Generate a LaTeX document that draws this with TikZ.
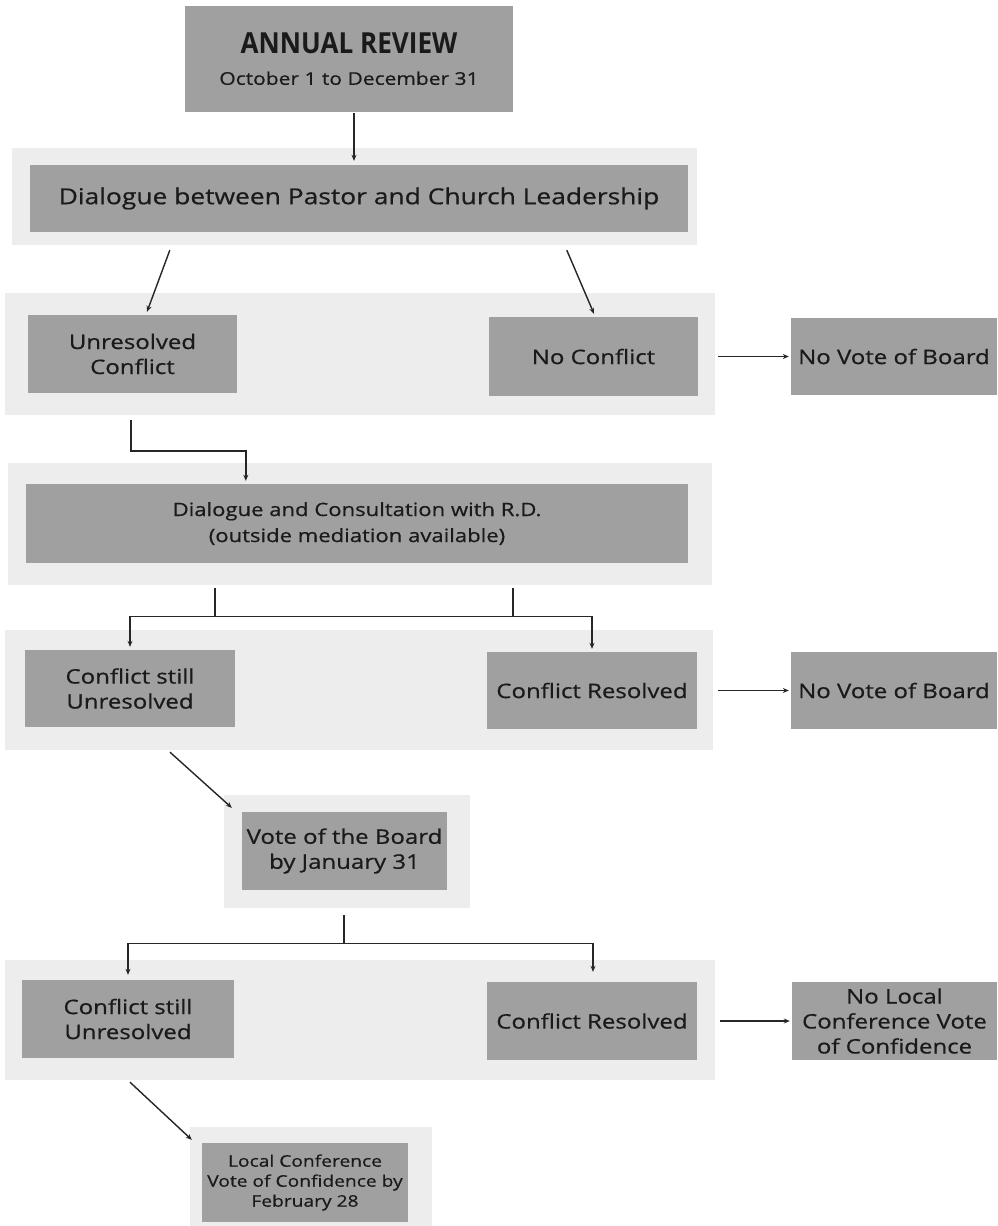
\documentclass[tikz,border=0pt]{standalone}
\usepackage{fontspec}
\usetikzlibrary{arrows.meta,calc}
\newfontfamily\bodyfont{Open Sans}[FakeStretch=1.2,FakeBold=0.6]
\newfontfamily\headfont{Open Sans}[FakeStretch=0.9]
\definecolor{boxgray}{HTML}{A0A0A0}
\definecolor{halogray}{HTML}{EDEDED}
\definecolor{txt}{HTML}{1A1A1A}
\definecolor{linec}{HTML}{262626}
\tikzset{
  box/.style={fill=boxgray, inner sep=0pt, align=center, text=txt, font=\bodyfont\fontsize{20}{25}\selectfont},
  halo/.style={fill=halogray, draw=none},
  arr/.style={draw=linec, line width=1.4pt, -{Stealth[length=6pt,width=5pt]}},
  plain/.style={draw=linec, line width=1.4pt}
}
\begin{document}
\begin{tikzpicture}[x=1pt,y=-1pt]
\useasboundingbox (0,0) rectangle (997,1226);
\fill[white] (0,0) rectangle (997,1226);
% halos
\fill[halo] (12,148) rectangle (697,245);
\fill[halo] (5,293) rectangle (715,415);
\fill[halo] (8,463) rectangle (712,585);
\fill[halo] (5,630) rectangle (713,750);
\fill[halo] (224,795) rectangle (470,908);
\fill[halo] (5,960) rectangle (715,1080);
\fill[halo] (190,1127) rectangle (432,1226);
% boxes
\node[box, minimum width=328pt, minimum height=106pt] (annual) at (349,59)
  {{\headfont\bfseries\fontsize{29}{29}\selectfont ANNUAL REVIEW}\\[6pt]{\fontsize{17.5}{20}\selectfont October 1 to December 31}};
\node[box, minimum width=658pt, minimum height=67pt, font=\bodyfont\fontsize{22}{25}\selectfont] (dlg) at (359,198.5)
  {Dialogue between Pastor and Church Leadership};
\node[box, minimum width=209pt, minimum height=78pt] (unres) at (132.5,354) {Unresolved\\Conflict};
\node[box, minimum width=209pt, minimum height=79pt] (noconf) at (593.5,356.5) {No Conflict};
\node[box, minimum width=206pt, minimum height=77pt] (novote1) at (894,356.5) {No Vote of Board};
\node[box, minimum width=662pt, minimum height=79pt, font=\bodyfont\fontsize{18.4}{26}\selectfont] (consult) at (357,523.5)
  {Dialogue and Consultation with R.D.\\(outside mediation available)};
\node[box, minimum width=210pt, minimum height=77pt] (still1) at (130,688.5) {Conflict still\\Unresolved};
\node[box, minimum width=210pt, minimum height=77pt] (res1) at (592,690.5) {Conflict Resolved};
\node[box, minimum width=206pt, minimum height=77pt] (novote2) at (894,690.5) {No Vote of Board};
\node[box, minimum width=205pt, minimum height=78pt] (board) at (344.5,851) {Vote of the Board\\by January 31};
\node[box, minimum width=212pt, minimum height=78pt] (still2) at (128,1019) {Conflict still\\Unresolved};
\node[box, minimum width=210pt, minimum height=78pt] (res2) at (592,1021) {Conflict Resolved};
\node[box, minimum width=205pt, minimum height=78pt] (nolocal) at (894.5,1021) {No Local\\Conference Vote\\of Confidence};
\node[box, minimum width=206pt, minimum height=79pt, font=\bodyfont\fontsize{16}{20}\selectfont] (local) at (305,1182.5)
  {Local Conference\\Vote of Confidence by\\February 28};
% connectors
\draw[arr] ($(annual.south)+(5,1)$) -- ($(dlg.north)+(-5,-4)$);
\draw[arr] ($(dlg.south west)+(140,18)$) -- ($(unres.north)+(14.5,-3)$);
\draw[arr] ($(dlg.south west)+(537,18)$) -- ($(noconf.north)+(0.5,-3)$);
\draw[arr] ($(noconf.east)+(20,0)$) -- ($(novote1.west)+(-2,0)$);
\draw[arr] ($(unres.south)+(-1.5,27)$) |- ($(consult.north west)+(220,-33)$) -- ($(consult.north west)+(220,-3)$);
\draw[plain] ($(consult.south west)+(189,25)$) -- ($(consult.south west)+(189,53)$);
\draw[plain] ($(consult.south west)+(487,25)$) -- ($(consult.south west)+(487,53)$);
\draw[arr] ($(consult.south west)+(189,53)$) -| ($(still1.north)+(0,-3)$);
\draw[arr] ($(consult.south west)+(189,53)$) -| ($(res1.north)+(0,-3)$);
\draw[arr] ($(res1.east)+(21,0)$) -- ($(novote2.west)+(-2,0)$);
\draw[arr] ($(still1.south)+(40,25)$) -- ($(board.north west)+(-10,-4)$);
\draw[plain] ($(board.south)+(-0.5,25)$) -- ($(board.south)+(-0.5,53)$);
\draw[arr] ($(board.south)+(-0.5,53)$) -| ($(still2.north)+(0,-5)$);
\draw[arr] ($(board.south)+(-0.5,53)$) -| ($(res2.north)+(1,-10)$);
\draw[arr] ($(res2.east)+(23,0)$) -- ($(nolocal.west)+(-2,0)$);
\draw[arr] ($(still2.south)+(2,24)$) -- ($(local.north west)+(-10,-3)$);
\end{tikzpicture}
\end{document}
